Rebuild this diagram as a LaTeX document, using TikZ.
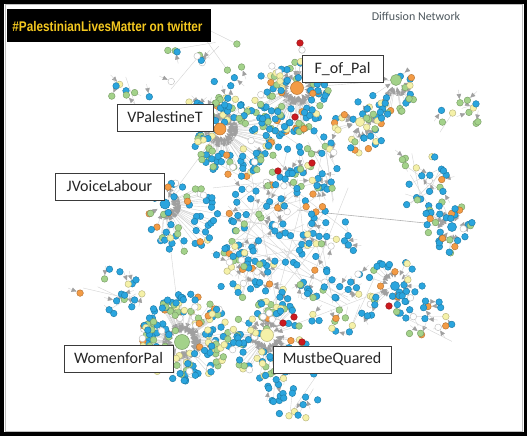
\documentclass[tikz,border=0pt]{standalone}
\usepackage{fontspec}
\setmainfont{Carlito}
\newfontfamily\titlefont{Liberation Sans}
\usetikzlibrary{arrows.meta}
\definecolor{nb}{HTML}{2AA5DE}
\definecolor{ng}{HTML}{A3D28A}
\definecolor{ny}{HTML}{F5F1A8}
\definecolor{no}{HTML}{F39B45}
\definecolor{nr}{HTML}{CC1A1F}
\definecolor{nw}{HTML}{FFFFFF}
\definecolor{edgec}{HTML}{D4D4D4}
\definecolor{arrc}{HTML}{A0A0A0}
\definecolor{boxc}{HTML}{3A3A3A}
\definecolor{titley}{HTML}{F4C820}
\definecolor{subt}{HTML}{4E585E}
\tikzset{
  edge/.style={draw=edgec,line width=0.4pt},
  longedge/.style={draw=black!30,line width=0.6pt},
  hubarrow/.style={edge,-{Triangle[length=5pt,width=4.5pt,color=arrc]}},
  lbl/.style={draw=boxc,line width=0.9pt,fill=white,minimum height=27pt,inner sep=0pt,
    font=\fontsize{16}{16}\selectfont,text=black!85},
}
\newif\ifdotpass
\def\offx{0}\def\offy{0}
\pgfmathdeclarerandomlist{mix}{{nb}{nb}{nb}{nb}{nb}{nb}{ng}{ng}{ng}{ny}{ny}{no}{nw}}
\pgfmathdeclarerandomlist{blu}{{nb}{nb}{nb}{nb}{nb}{nb}{nb}{nb}{nb}{nb}{ng}{ng}{ny}{no}{nw}}
\pgfmathdeclarerandomlist{grn}{{ng}{ng}{ng}{nb}{nb}{nw}{ny}}
% hub cluster: hubx huby rmin rmax n seed edgeprob list hubr (cluster centre shifted by \offx,\offy)
\newcommand\hubcl[9]{%
  \pgfmathsetseed{#6}%
  \foreach \k in {1,...,#5}{%
    \pgfmathsetmacro\ang{rnd*360}%
    \pgfmathsetmacro\rr{#3+(#4-#3)*sqrt(rnd)}%
    \pgfmathsetmacro\px{#1+\offx+\rr*cos(\ang)}%
    \pgfmathsetmacro\py{#2+\offy+\rr*sin(\ang)}%
    \pgfmathsetmacro\ep{rnd}%
    \pgfmathsetmacro\sh{#9+1+rnd*6}%
    \pgfmathrandomitem\cc{#8}%
    \ifdotpass
      \path[fill=\cc,draw=\cc!75!black,line width=0.45pt] (\px,\py) circle[radius=3.3];
    \else
      \ifdim\ep pt<#7pt \draw[hubarrow,shorten >=\sh pt] (\px,\py) -- (#1,#2);\fi
    \fi
  }}
% scatter: cx cy R n seed list
\newcommand\scat[6]{%
  \pgfmathsetseed{#5}%
  \foreach \k in {1,...,#4}{%
    \pgfmathsetmacro\ang{rnd*360}%
    \pgfmathsetmacro\rr{#3*sqrt(rnd)}%
    \pgfmathsetmacro\px{#1+\rr*cos(\ang)}%
    \pgfmathsetmacro\py{#2+\rr*sin(\ang)}%
    \pgfmathsetmacro\ep{rnd}%
    \pgfmathsetmacro\bang{rnd*360}%
    \pgfmathsetmacro\qx{\px+13*cos(\bang)}%
    \pgfmathsetmacro\qy{\py+13*sin(\bang)}%
    \pgfmathsetmacro\lx{#1+#3*rand}%
    \pgfmathsetmacro\ly{#2+#3*rand}%
    \pgfmathrandomitem\cc{#6}%
    \ifdotpass
      \path[fill=\cc,draw=\cc!75!black,line width=0.45pt] (\px,\py) circle[radius=3.3];
    \else
      \ifdim\ep pt<0.5pt \draw[hubarrow,shorten >=3.8pt] (\qx,\qy) -- (\px,\py);\fi
      \ifdim\ep pt>0.75pt \draw[edge] (\px,\py) -- (\lx,\ly);\fi
    \fi
  }}
\newcommand\allclusters{%
  \scat{285}{235}{72}{120}{11}{blu}%
  \scat{300}{165}{40}{35}{12}{blu}%
  \scat{205}{68}{42}{22}{13}{grn}%
  \scat{110}{295}{32}{16}{14}{blu}%
  \scat{295}{392}{28}{22}{15}{blu}%
  \scat{420}{180}{30}{22}{16}{blu}%
  \scat{340}{300}{35}{30}{17}{blu}%
  \scat{430}{320}{25}{16}{18}{blu}%
  \scat{235}{270}{30}{30}{19}{blu}%
  \scat{130}{95}{22}{8}{20}{grn}%
  \scat{460}{120}{25}{10}{21}{grn}%
  \def\offx{-6}\def\offy{10}%
  \hubcl{297}{88}{9}{38}{100}{31}{0.8}{mix}{6.5}%
  \def\offx{-2}\def\offy{12}%
  \hubcl{396}{80}{7}{24}{25}{32}{0.7}{mix}{5.5}%
  \def\offx{0}\def\offy{5}%
  \hubcl{360}{122}{6}{26}{35}{33}{0.7}{mix}{4.5}%
  \def\offx{14}\def\offy{8}%
  \hubcl{220}{129}{9}{40}{115}{34}{0.8}{mix}{6}%
  \def\offx{18}\def\offy{12}%
  \hubcl{165}{204}{8}{36}{55}{35}{0.7}{blu}{5}%
  \def\offx{4}\def\offy{-4}%
  \hubcl{182}{342}{11}{44}{170}{36}{0.85}{mix}{7.5}%
  \def\offx{4}\def\offy{6}%
  \hubcl{267}{335}{9}{40}{90}{37}{0.8}{mix}{6.5}%
  \def\offx{-4}\def\offy{0}%
  \hubcl{452}{227}{6}{26}{35}{38}{0.7}{blu}{4.5}%
  \def\offx{0}\def\offy{0}%
  \hubcl{395}{286}{6}{28}{35}{39}{0.7}{blu}{4.5}%
}
\begin{document}
\begin{tikzpicture}[x=1pt,y=-1pt]
\useasboundingbox (0,0) rectangle (528,436);
\fill[white] (0,0) rectangle (528,436);
\begin{scope}
\clip (6,6) rectangle (521,430);
% long faint edges
\draw[longedge] (297,210) -- (425,223);
\draw[edge] (182,342) -- (267,335);
\draw[edge] (220,129) -- (297,88);
\draw[edge] (165,204) -- (220,129);
\draw[edge] (267,335) -- (395,286);
\draw[edge] (297,88) -- (396,80);
\draw[edge] (182,342) -- (165,204);
\draw[edge] (267,335) -- (300,210);
\dotpassfalse
\allclusters
\dotpasstrue
\allclusters
% red and special dots
\foreach \p in {(300,43),(295,117),(278,171),(283,323),(294,317),(302,342),(389,306),(312,163)}
  \path[fill=nr,draw=nr!75!black,line width=0.45pt] \p circle[radius=3.3];
\path[fill=white,draw=black!30,line width=0.45pt] (302,50) circle[radius=3.3];
% hubs
\path[fill=no,draw=no!75!black,line width=0.5pt] (297,88) circle[radius=6.5];
\path[fill=ng,draw=ng!75!black,line width=0.5pt] (396,80) circle[radius=5.5];
\path[fill=ny,draw=ny!75!black,line width=0.5pt] (360,122) circle[radius=4.5];
\path[fill=no,draw=no!75!black,line width=0.5pt] (220,129) circle[radius=6];
\path[fill=nb,draw=nb!75!black,line width=0.5pt] (165,204) circle[radius=5];
\path[fill=ng,draw=ng!75!black,line width=0.5pt] (182,342) circle[radius=7.5];
\path[fill=ny,draw=ny!75!black,line width=0.5pt] (267,335) circle[radius=6.5];
\path[fill=nb,draw=nb!75!black,line width=0.5pt] (452,227) circle[radius=4.5];
\path[fill=nb,draw=nb!75!black,line width=0.5pt] (395,286) circle[radius=4.5];
\end{scope}
% frame
\draw[black!25,line width=1pt] (5,5) rectangle (522.5,431.5);
\draw[black,line width=3.5pt] (2,2) rectangle (525.5,434);
% title
\node[fill=black,minimum width=204pt,minimum height=33pt,inner sep=0pt] (titlebox) at (109,25.5) {};
\node[text=titley,font=\titlefont\bfseries\fontsize{14}{14}\selectfont,inner sep=0pt] (title) at (107.5,26)
  {\scalebox{0.84}[1]{\#PalestinianLivesMatter on twitter}};
\node[text=subt,font=\fontsize{12}{12}\selectfont,inner sep=0pt] (sub) at (416,16) {Diffusion Network};
% labels
\node[lbl,minimum width=81pt] (fofpal) at (342.5,69) {F\_of\_Pal};
\node[lbl,minimum width=96pt] (vpal) at (165,117.5) {VPalestineT};
\node[lbl,minimum width=109pt] (jvoice) at (109.5,186.5) {JVoiceLabour};
\node[lbl,minimum width=109pt] (women) at (118.5,358.5) {WomenforPal};
\node[lbl,minimum width=118pt] (must) at (332,359.5) {MustbeQuared};
\end{tikzpicture}
\end{document}
